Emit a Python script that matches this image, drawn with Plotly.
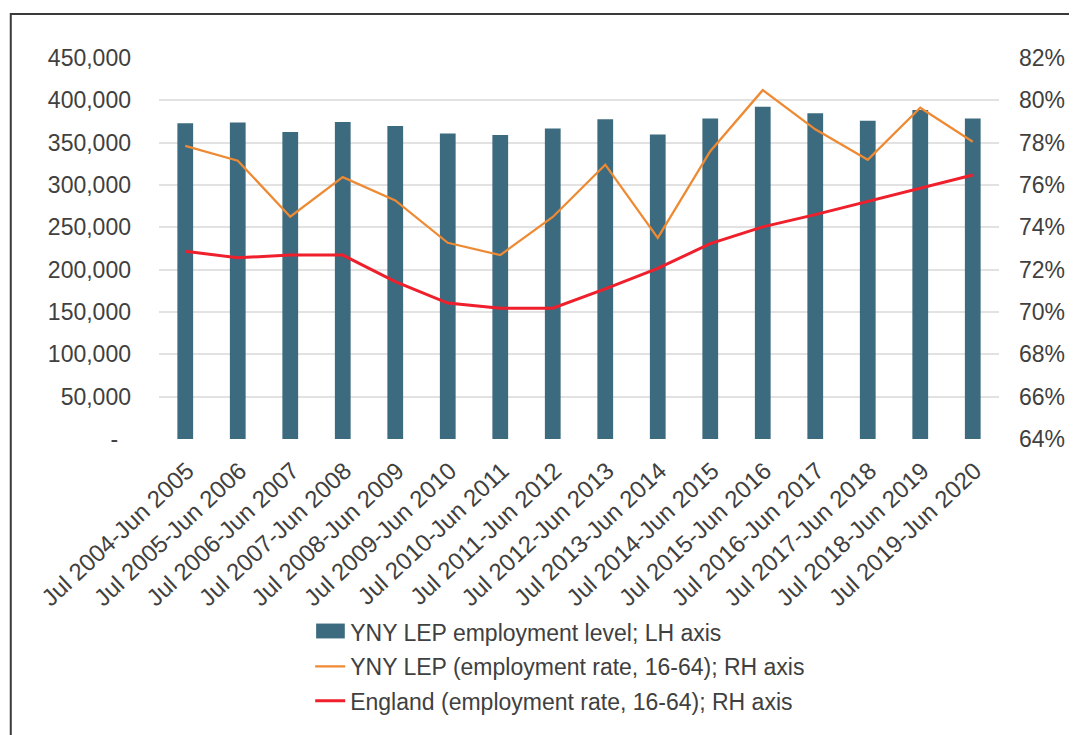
import plotly.graph_objects as go

categories = [
    "Jul 2004-Jun 2005", "Jul 2005-Jun 2006", "Jul 2006-Jun 2007", "Jul 2007-Jun 2008",
    "Jul 2008-Jun 2009", "Jul 2009-Jun 2010", "Jul 2010-Jun 2011", "Jul 2011-Jun 2012",
    "Jul 2012-Jun 2013", "Jul 2013-Jun 2014", "Jul 2014-Jun 2015", "Jul 2015-Jun 2016",
    "Jul 2016-Jun 2017", "Jul 2017-Jun 2018", "Jul 2018-Jun 2019", "Jul 2019-Jun 2020",
]
employment_level = [373000, 373700, 362700, 374400, 369700, 360800, 359200, 366700,
                    377600, 359600, 378400, 392500, 384600, 376000, 388500, 378400]
yny_rate = [77.85, 77.15, 74.5, 76.37, 75.27, 73.27, 72.69, 74.49,
            76.96, 73.5, 77.6, 80.48, 78.63, 77.19, 79.65, 78.04]
england_rate = [72.87, 72.56, 72.69, 72.69, 71.44, 70.42, 70.18, 70.18,
                71.09, 72.06, 73.23, 74.02, 74.6, 75.22, 75.85, 76.47]

left_tickvals = [0, 50000, 100000, 150000, 200000, 250000, 300000, 350000, 400000, 450000]
left_ticktext = ["-\u00a0\u00a0", "50,000", "100,000", "150,000", "200,000", "250,000",
                 "300,000", "350,000", "400,000", "450,000"]
right_tickvals = [64, 66, 68, 70, 72, 74, 76, 78, 80, 82]
right_ticktext = [f"{v}%" for v in right_tickvals]

FONT = "Liberation Sans, Arial, sans-serif"
TXT = "#404040"
BAR_COLOR = "#3c6a7f"

# page has an 8px body margin: figure occupies page x 8..1077, y 8..735
W, H = 1069, 727
L, R, T, B = 151, 68, 50, 293
PW, PH = W - L - R, H - T - B


def px_x(x):
    return (x - L) / PW


def px_y(y):
    return (H - B - y) / PH


fig = go.Figure()
fig.add_trace(go.Bar(
    x=categories, y=employment_level, name="YNY LEP employment level; LH axis",
    marker=dict(color=BAR_COLOR, line=dict(width=0)), width=0.3, legendgroup="a",
))
fig.add_trace(go.Scatter(
    x=categories, y=yny_rate, yaxis="y2", mode="lines",
    name="YNY LEP (employment rate, 16-64); RH axis",
    line=dict(color="#ee8a33", width=2.3), legendgroup="b",
))
fig.add_trace(go.Scatter(
    x=categories, y=england_rate, yaxis="y2", mode="lines",
    name="England (employment rate, 16-64); RH axis",
    line=dict(color="#ef1f2b", width=3), legendgroup="c",
))

fig.update_layout(
    width=W, height=H,
    margin=dict(l=L, r=R, t=T, b=B),
    paper_bgcolor="white", plot_bgcolor="white",
    font=dict(family=FONT, size=23, color=TXT),
    showlegend=True,
    legend=dict(
        x=0.18, y=-0.45, xanchor="left", yanchor="top",
        orientation="v", traceorder="grouped", tracegroupgap=1.5,
        font=dict(family=FONT, size=23, color=TXT),
        bgcolor="rgba(0,0,0,0)",
    ),
    xaxis=dict(
        tickangle=-43, showgrid=False, showline=False, zeroline=False,
        tickfont=dict(family=FONT, size=24, color=TXT), ticks="",
        ticklabelstandoff=12, ticklabelshift=2,
    ),
    yaxis=dict(
        range=[0, 450000], tickvals=left_tickvals, ticktext=left_ticktext,
        showgrid=True, gridcolor="#e2e2e2", gridwidth=1.5,
        zeroline=False, showline=False, ticks="", ticklabelstandoff=27,
        tickfont=dict(family=FONT, size=23, color=TXT),
    ),
    yaxis2=dict(
        range=[64, 82], tickvals=right_tickvals, ticktext=right_ticktext,
        overlaying="y", side="right", showgrid=False, zeroline=False,
        showline=False, ticks="", ticklabelstandoff=19,
        tickfont=dict(family=FONT, size=23, color=TXT),
    ),
    bargap=0.7,
)

# outer frame of the chart (left and top edges visible; extends past the page)
fig.add_shape(
    type="rect", xref="paper", yref="paper",
    x0=px_x(1), x1=px_x(1100), y0=px_y(760), y1=px_y(5.7),
    line=dict(color="#3a3a3a", width=2), fillcolor="rgba(0,0,0,0)", layer="below",
)
# wider legend swatch for the bar series, as in the reference
fig.add_shape(
    type="rect", xref="paper", yref="paper",
    x0=px_x(310), x1=px_x(339), y0=px_y(635), y1=px_y(620),
    line=dict(width=0), fillcolor=BAR_COLOR, layer="above",
)

fig.write_html("out.html")
